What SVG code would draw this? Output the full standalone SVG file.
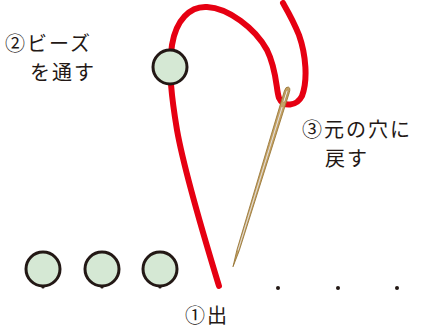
<svg xmlns="http://www.w3.org/2000/svg" width="423" height="336" viewBox="0 0 423 336">
<style>
.bead{fill:#d5e8d4;stroke:#231815;stroke-width:3}
.dot{fill:#231815}
.thread{fill:none;stroke:#e60012;stroke-width:6;stroke-linecap:round;stroke-linejoin:round}
.lbl{font-family:"Noto Sans CJK JP","Noto Sans",sans-serif;font-size:20px;letter-spacing:2px;fill:#231815}
</style>
<rect width="423" height="336" fill="#fff"/>
<g id="connectors">
<path class="thread" d="M219,286 C205,240 185,175 177,130 C172,100 168,70 172,45 C176,20 190,6 207,7 C228,8 255,28 267,50 C277,70 276,90 279,98 C283,108 297,106 302,96 C308,80 306,55 299,35 C293,20 287,10 283,3"/>
</g>
<g id="needle" transform="translate(288,88) rotate(17.1)">
<path d="M-2.6,4 Q-2.6,-1 0,-1 Q2.6,-1 2.6,4 L2.2,60 L1.2,170 L0,187 L-1.2,170 L-2.2,60 Z" fill="#c4a265" stroke="#977536" stroke-width="0.8"/>
<path d="M-0.5,20 L-0.4,170 L0.4,170 L0.5,20 Z" fill="#e4e4e8"/>
<path d="M-0.8,3 Q0,1 0.8,3 L0.8,14 Q0,16 -0.8,14 Z" fill="#fff" stroke="#977536" stroke-width="0.5"/>
</g>
<g id="bead-top"><circle class="bead" cx="170" cy="67" r="17"/></g>
<g id="bead-1"><circle class="bead" cx="43" cy="269" r="17"/><circle class="dot" cx="43" cy="287" r="1.6"/></g>
<g id="bead-2"><circle class="bead" cx="102" cy="269" r="17"/><circle class="dot" cx="102" cy="287" r="1.6"/></g>
<g id="bead-3"><circle class="bead" cx="160" cy="269" r="17"/><circle class="dot" cx="160" cy="287" r="1.6"/></g>
<g id="dots">
<circle class="dot" cx="278" cy="288" r="2"/>
<circle class="dot" cx="338" cy="288" r="2"/>
<circle class="dot" cx="397" cy="288" r="2"/>
</g>
<g id="label-2"><text class="lbl" x="5" y="51"><tspan x="5" y="51">②ビーズ</tspan><tspan x="30" y="80">を通す</tspan></text></g>
<g id="label-3"><text class="lbl" x="302" y="137"><tspan x="302" y="137">③元の穴に</tspan><tspan x="325" y="166">戻す</tspan></text></g>
<g id="label-1"><text class="lbl" x="185" y="323">①出</text></g>
</svg>
